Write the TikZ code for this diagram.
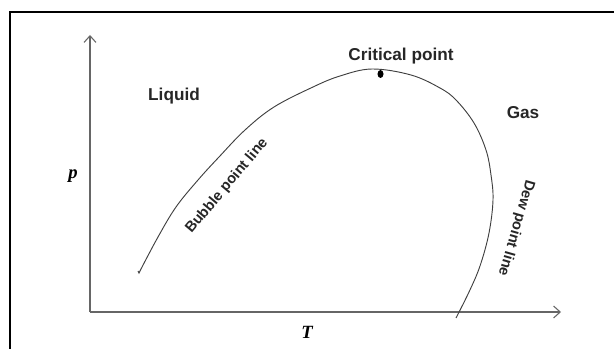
\documentclass[tikz,border=0pt]{standalone}
\usepackage{fontspec}
\setmainfont{Liberation Sans}
\newfontfamily\axisfont{Liberation Serif}
\usetikzlibrary{arrows.meta,shapes.geometric}
\tikzset{
    frame/.style={line width=1.2pt, black},
    axis/.style={-{Straight Barb[length=5pt, width=9pt]}, line width=0.8pt, black!60},
    phase/.style={line width=0.7pt, black!75},
    region/.style={font=\fontsize{12.9}{14}\selectfont\bfseries, text=black!85},
    linelabel/.style={font=\fontsize{11}{13}\selectfont\bfseries, text=black!85},
    axlabel/.style={font=\fontsize{14}{16}\selectfont\axisfont\bfseries\itshape},
}
\begin{document}
\begin{tikzpicture}[x=0.75pt, y=-0.75pt]

    \useasboundingbox (0,0) rectangle (614,349);
    \draw[frame] (10,349) -- (10,12) -- (614,12);

    \coordinate (origin) at (90,312);
    \coordinate (ptip) at (90,35);
    \coordinate (Ttip) at (561,312);
    \draw[axis] (origin) -- (ptip);
    \draw[axis] (origin) -- (Ttip);

    \node[axlabel] (plabel) at (73,176) {p};
    \node[axlabel] (Tlabel) at (307,332) {T};

    % phase envelope
    \draw[phase] plot[smooth, tension=0.6] coordinates {
        (141,269) (158,237) (176,207) (198,180) (219,157) (245,130) (274,107)
        (313,87) (340,76) (372,69) (411,75) (440,88) (456,100) (474,123)
        (486,150) (491,175) (493,200) (489,233) (480,266) (469,292) (456,318)};
    \draw[phase] (141,269) -- (139,273) -- (138,271);

    \node[fill=black, ellipse, inner sep=0pt, minimum width=4.5pt, minimum height=6pt] (crit) at (380.5,74) {};

    \node[region] (critlabel) at (401,56) {Critical point};
    \node[region] (liquid) at (174,96) {Liquid};
    \node[region] (gas) at (523,113) {Gas};
    \node[linelabel, rotate=50] (bubble) at (227,186) {Bubble point line};
    \node[linelabel, rotate=-106] (dew) at (516,228) {Dew point line};

\end{tikzpicture}
\end{document}
